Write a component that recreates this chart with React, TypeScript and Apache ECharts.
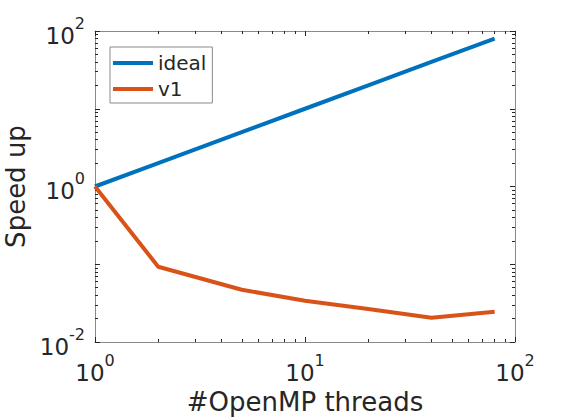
import React, { useEffect, useRef } from "react";
import * as echarts from "echarts";

const threads = [1, 2, 5, 10, 20, 40, 80];
const idealSpeedup = [1, 2, 5, 10, 20, 40, 80];
const v1Speedup = [1, 0.093, 0.047, 0.034, 0.0265, 0.0205, 0.0245];

const xMajorTicks = [1, 10, 100];
const xMinorTicks = [2, 3, 4, 5, 6, 7, 8, 9, 20, 30, 40, 50, 60, 70, 80, 90];
const yMajorTicks = [0.01, 0.1, 1, 10, 100];
const yMinorTicks = [
  0.02, 0.03, 0.04, 0.05, 0.06, 0.07, 0.08, 0.09,
  0.2, 0.3, 0.4, 0.5, 0.6, 0.7, 0.8, 0.9,
  2, 3, 4, 5, 6, 7, 8, 9,
  20, 30, 40, 50, 60, 70, 80, 90,
];
const xLabelTicks = [1, 10, 100];
const yLabelTicks = [0.01, 1, 100];

const FONT = "DejaVu Sans";
const TEXT = "#262626";
const LINE = "#8a8a8a";

const fmt = (v: number) => {
  const e = Math.round(Math.log10(v));
  return `{b|10}{s|${e}}`;
};

const rich = {
  b: { fontSize: 23, fontFamily: FONT, color: TEXT, lineHeight: 32, verticalAlign: "bottom" },
  s: { fontSize: 16, fontFamily: FONT, color: TEXT, lineHeight: 32, verticalAlign: "top" },
};

function makeAxis(kind: "x" | "y", pos: string, gridIndex: number, ticks: number[], len: number, labels: boolean) {
  const isX = kind === "x";
  const ax: any = {
    type: "log",
    logBase: 10,
    gridIndex,
    position: pos,
    min: isX ? 1 : 0.01,
    max: 100,
    splitLine: { show: false },
    axisLine: { show: gridIndex === 0, lineStyle: { color: LINE, width: 1 } },
    axisTick: {
      show: true,
      inside: true,
      length: len,
      customValues: ticks,
      lineStyle: { color: TEXT, width: 1 },
    },
    axisLabel: labels
      ? {
          show: true,
          customValues: isX ? xLabelTicks : yLabelTicks,
          formatter: fmt,
          rich,
          margin: 10,
        }
      : { show: false },
  };
  return ax;
}

export default function App() {
  const ref = useRef<HTMLDivElement>(null);
  useEffect(() => {
    if (!ref.current) return;
    const chart = echarts.init(ref.current, null, { renderer: "svg" });
    const gridRect = { left: 95, right: 55, top: 31, bottom: 78, containLabel: false, outerBoundsMode: "none" };
    const xAxes = [
      makeAxis("x", "bottom", 0, xMajorTicks, 5, true),
      makeAxis("x", "top", 0, xMajorTicks, 5, false),
      makeAxis("x", "bottom", 1, xMinorTicks, 3, false),
      makeAxis("x", "top", 1, xMinorTicks, 3, false),
    ];
    const yAxes = [
      makeAxis("y", "left", 0, yMajorTicks, 5, true),
      makeAxis("y", "right", 0, yMajorTicks, 5, false),
      makeAxis("y", "left", 1, yMinorTicks, 3, false),
      makeAxis("y", "right", 1, yMinorTicks, 3, false),
    ];
    xAxes[0].name = "#OpenMP threads";
    xAxes[0].nameLocation = "middle";
    xAxes[0].nameGap = 44;
    xAxes[0].nameTextStyle = { fontSize: 26, fontFamily: FONT, color: TEXT };
    yAxes[0].name = "Speed up";
    yAxes[0].nameLocation = "middle";
    yAxes[0].nameGap = 64;
    yAxes[0].nameTextStyle = { fontSize: 26, fontFamily: FONT, color: TEXT };

    chart.setOption({
      animation: false,
      backgroundColor: "#ffffff",
      grid: [
        { ...gridRect, show: false },
        { ...gridRect, show: false },
      ],
      xAxis: xAxes,
      yAxis: yAxes,
      legend: {
        orient: "vertical",
        left: 110,
        top: 47,
        padding: [5, 6, 3, 3],
        itemGap: 4,
        itemWidth: 40,
        itemHeight: 4,
        icon: "rect",
        borderColor: LINE,
        borderWidth: 1,
        backgroundColor: "#ffffff",
        textStyle: { fontSize: 20, fontFamily: FONT, color: TEXT, lineHeight: 22 },
        data: ["ideal", "v1"],
      },
      series: [
        {
          name: "ideal",
          type: "line",
          xAxisIndex: 0,
          yAxisIndex: 0,
          symbol: "none",
          lineStyle: { color: "#0072BD", width: 4 },
          itemStyle: { color: "#0072BD" },
          data: threads.map((t, i) => [t, idealSpeedup[i]]),
        },
        {
          name: "v1",
          type: "line",
          xAxisIndex: 0,
          yAxisIndex: 0,
          symbol: "none",
          lineStyle: { color: "#D95319", width: 4 },
          itemStyle: { color: "#D95319" },
          data: threads.map((t, i) => [t, v1Speedup[i]]),
        },
      ],
    });
    return () => chart.dispose();
  }, []);
  return <div ref={ref} style={{ width: 570, height: 420, position: "absolute", left: 0, top: 0 }} />;
}
